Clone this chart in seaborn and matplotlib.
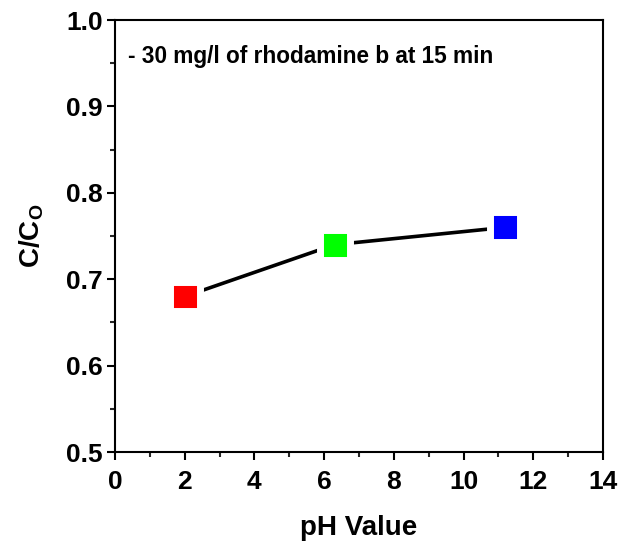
import matplotlib
matplotlib.use("Agg")
import matplotlib.pyplot as plt
import seaborn as sns
import pandas as pd
from matplotlib.ticker import MultipleLocator

ph = [2.0, 6.3, 11.2]
ratio = [0.68, 0.74, 0.76]
colors = ["#ff0000", "#00ff00", "#0000ff"]
xticks = [0, 2, 4, 6, 8, 10, 12, 14]
yticks = [0.5, 0.6, 0.7, 0.8, 0.9, 1.0]

sns.set_theme(style="white")
plt.rcParams['font.family'] = ['Liberation Sans', 'DejaVu Sans']
plt.rcParams['font.weight'] = 'bold'
plt.rcParams['mathtext.fontset'] = 'custom'
plt.rcParams['mathtext.rm'] = 'Liberation Sans:bold'
plt.rcParams['mathtext.bf'] = 'Liberation Sans:bold'
plt.rcParams['mathtext.it'] = 'Liberation Sans:bold'

df = pd.DataFrame({"ph": ph, "ratio": ratio, "c": ["a", "b", "c"]})

fig = plt.figure(figsize=(6.3, 5.42), dpi=100)
ax = fig.add_axes([115/630, 1 - 452/542, 488/630, 432/542])

sns.lineplot(data=df, x="ph", y="ratio", color="black", linewidth=2.6, ax=ax, zorder=2)
sns.scatterplot(data=df, x="ph", y="ratio", hue="c", palette=colors, marker="s",
                s=21.5**2, edgecolor="white", linewidth=5, ax=ax, legend=False, zorder=3)

ax.set_xlim(0, 14)
ax.set_ylim(0.5, 1.0)
ax.set_xticks(xticks)
ax.set_yticks(yticks)
ax.set_xticklabels([str(t) for t in xticks])
ax.set_yticklabels([f"{t:.1f}" for t in yticks])
ax.xaxis.set_minor_locator(MultipleLocator(1))
ax.yaxis.set_minor_locator(MultipleLocator(0.05))
ax.tick_params(axis='both', which='major', direction='out', length=6, width=1.5,
               labelsize=19, colors='black', bottom=True, left=True, pad=3)
ax.tick_params(axis='x', which='major', pad=7)
ax.tick_params(axis='both', which='minor', direction='out', length=3.5, width=1.5,
               bottom=True, left=True)
for lab in ax.get_xticklabels() + ax.get_yticklabels():
    lab.set_fontweight('bold')
for sp in ax.spines.values():
    sp.set_linewidth(1.5)
    sp.set_color('black')

ax.set_xlabel("pH Value", fontsize=20, fontweight='bold', color='black', labelpad=15)
ax.set_ylabel(r"C/C$_{\mathbf{O}}$", fontsize=20, fontweight='bold', color='black', labelpad=14)
ax.text(0.027, 0.915, "- 30 mg/l of rhodamine b at 15 min", transform=ax.transAxes,
        fontsize=16.3, fontweight='bold', color='black', va='center', ha='left')

fig.savefig("out.png", dpi=100)
